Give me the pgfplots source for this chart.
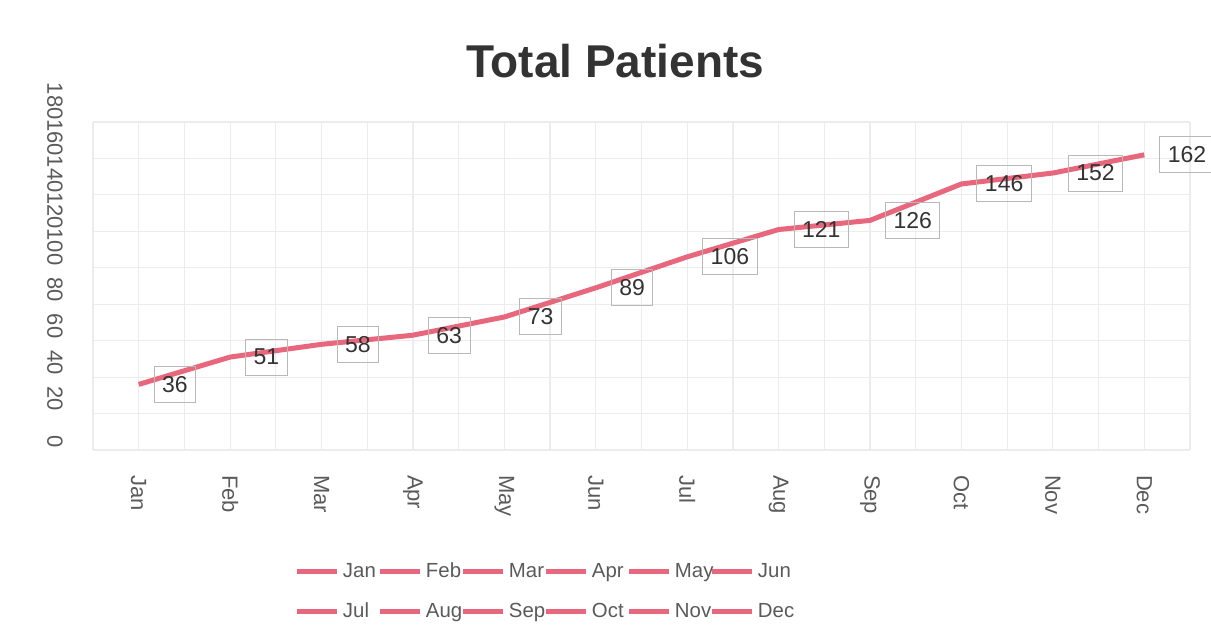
\documentclass[border=0pt]{standalone}
\usepackage{fontspec}
\setmainfont{Liberation Sans}
\usepackage{pgfplots}
\pgfplotsset{compat=1.18}
\definecolor{patline}{HTML}{E8677C}
\definecolor{gridc}{HTML}{ECECEC}
\definecolor{ticktxt}{HTML}{5A5A5A}

\begin{document}
\begin{tikzpicture}
\path[use as bounding box] (-46.5pt,-93.5pt) rectangle (559pt,225pt);
\begin{axis}[
  scale only axis,
  width=548.5pt, height=164pt,
  xmin=-0.5, xmax=11.5,
  ymin=0, ymax=180,
  xtick={0,...,11},
  xticklabels={Jan,Feb,Mar,Apr,May,Jun,Jul,Aug,Sep,Oct,Nov,Dec},
  minor xtick={-0.5,0.5,...,11.5},
  ytick={0,20,...,180},
  /pgf/number format/assume math mode=true,
  grid=both,
  major grid style={gridc, line width=0.6pt},
  minor grid style={gridc, line width=0.6pt},
  axis line style={draw=none},
  major tick length=0pt, minor tick length=0pt,
  tick label style={font=\fontsize{11}{13}\selectfont, text=ticktxt},
  xticklabel style={yshift=-9pt, rotate=-90, anchor=west},
  yticklabel style={xshift=-19pt, rotate=-90, anchor=east, inner xsep=1pt},
  title={Total Patients},
  title style={at={(0.476,1.149)}, anchor=center,
    font=\bfseries\fontsize{23}{26}\selectfont, text=black!80},
  clip=false,
  nodes near coords,
  nodes near coords style={anchor=west, xshift=7.5pt,
    draw=black!28, line width=0.5pt, fill=none,
    font=\fontsize{11.5}{13}\selectfont, text=black!80,
    inner xsep=4pt, minimum height=18pt},
  legend columns=6,
  legend style={at={(0.4111,-0.2958)}, anchor=north, draw=none, fill=none,
    nodes={font=\fontsize{10.2}{12}\selectfont, text=ticktxt,
      text width=16pt, inner xsep=1.5pt, text height=8pt, text depth=2pt, inner ysep=5pt},
    /tikz/every even column/.style={column sep=0pt}},
  legend image code/.code={\draw[#1, line width=2.5pt] (0pt,0pt) -- (20pt,0pt);},
]
\addplot[patline, line width=2.5pt, mark=none]
coordinates {(0,36) (1,51) (2,58) (3,63) (4,73) (5,89) (6,106) (7,121) (8,126) (9,146) (10,152) (11,162)};
\addlegendentry{Jan}
\addlegendimage{patline}\addlegendentry{Feb}
\addlegendimage{patline}\addlegendentry{Mar}
\addlegendimage{patline}\addlegendentry{Apr}
\addlegendimage{patline}\addlegendentry{May}
\addlegendimage{patline}\addlegendentry{Jun}
\addlegendimage{patline}\addlegendentry{Jul}
\addlegendimage{patline}\addlegendentry{Aug}
\addlegendimage{patline}\addlegendentry{Sep}
\addlegendimage{patline}\addlegendentry{Oct}
\addlegendimage{patline}\addlegendentry{Nov}
\addlegendimage{patline}\addlegendentry{Dec}
\end{axis}
\end{tikzpicture}
\end{document}
